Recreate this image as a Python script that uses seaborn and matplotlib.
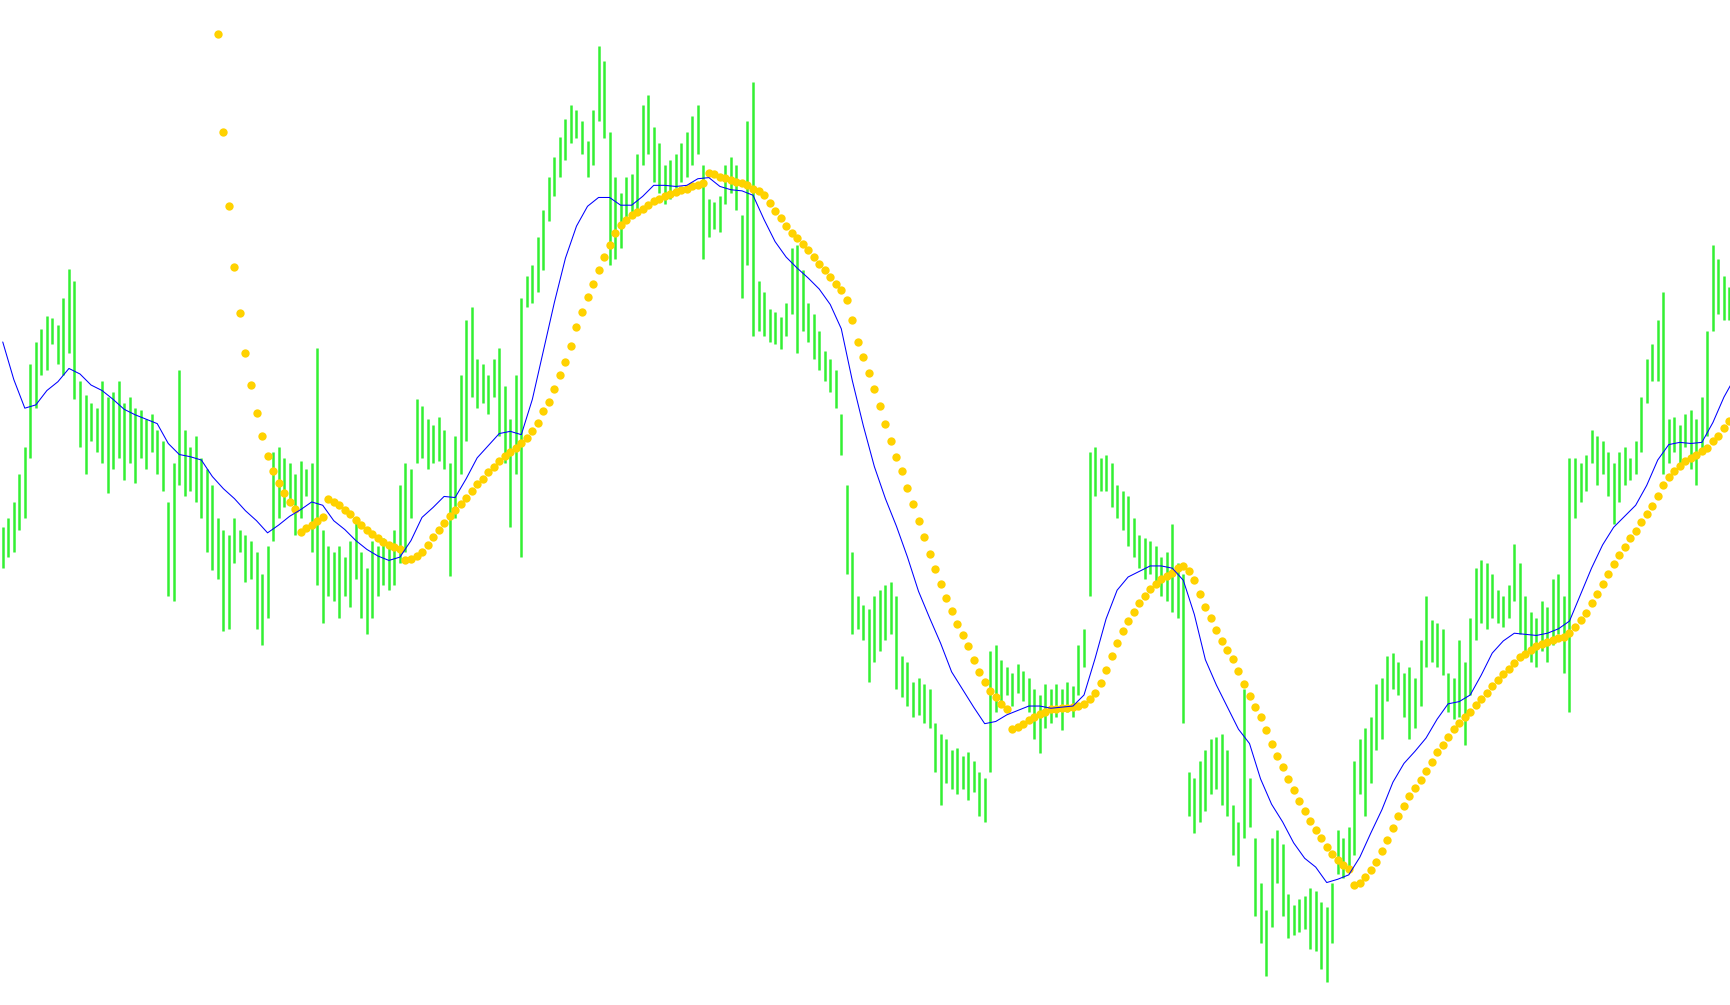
import numpy as np
import pandas as pd
import matplotlib
matplotlib.use("Agg")
import matplotlib.pyplot as plt
import seaborn as sns

# Bar highs / lows (price in points), one value per bar
high = [
    433, 441, 456, 481, 506, 581, 601, 613, 625, 623,
    616, 641, 667, 656, 566, 553, 546, 541, 566, 551,
    556, 566, 546, 551, 541, 539, 531, 536, 521, 511,
    456, 491, 576, 521, 506, 516, 496, 486, 471, 441,
    431, 426, 441, 431, 426, 421, 411, 391, 416, 501,
    506, 496, 491, 481, 493, 486, 491, 596, 431, 416,
    411, 416, 406, 421, 441, 411, 396, 421, 416, 423,
    416, 431, 471, 491, 486, 549, 543, 531, 526, 533,
    521, 491, 516, 571, 621, 633, 586, 581, 571, 586,
    596, 561, 531, 571, 641, 661, 671, 696, 721, 751,
    769, 787, 803, 816, 811, 801, 783, 811, 869, 856,
    791, 751, 736, 751, 753, 771, 816, 825, 796, 781,
    761, 766, 771, 781, 791, 806, 816, 761, 731, 728,
    733, 761, 769, 761, 716, 801, 837, 656, 646, 631,
    628, 624, 636, 686, 689, 666, 636, 626, 611, 593,
    586, 576, 536, 471, 411, 371, 363, 359, 371, 376,
    381, 383, 371, 316, 311, 293, 296, 291, 286, 256,
    246, 241, 231, 233, 226, 229, 221, 211, 206, 321,
    326, 313, 306, 301, 309, 303, 296, 286, 281, 291,
    286, 291, 286, 293, 289, 326, 341, 501, 506, 496,
    499, 491, 471, 466, 461, 441, 426, 423, 421, 416,
    406, 411, 436, 401, 391, 211, 206, 221, 231, 241,
    243, 246, 231, 181, 166, 286, 206, 151, 111, 86,
    151, 159, 146, 101, 91, 96, 99, 106, 103, 93,
    89, 111, 159, 151, 161, 221, 241, 251, 261, 291,
    296, 316, 319, 311, 301, 306, 296, 331, 371, 349,
    346, 341, 301, 296, 331, 311, 351, 396, 403, 401,
    391, 376, 371, 381, 418, 401, 371, 356, 351, 366,
    361, 386, 391, 371, 496, 496, 491, 499, 521, 516,
    511, 501, 491, 501, 506, 496, 511, 551, 586, 599,
    621, 646, 531, 533, 526, 536, 539, 531, 551, 611,
    689, 676, 661, 651,
]
low = [
    396, 406, 411, 431, 441, 496, 541, 571, 576, 599,
    581, 571, 591, 549, 506, 481, 511, 501, 491, 464,
    486, 496, 476, 491, 473, 496, 486, 501, 481, 466,
    371, 366, 471, 461, 466, 456, 441, 411, 394, 386,
    339, 341, 401, 411, 383, 386, 341, 326, 351, 421,
    441, 451, 456, 426, 441, 461, 411, 381, 346, 371,
    366, 351, 371, 361, 386, 351, 336, 351, 371, 381,
    376, 381, 401, 411, 441, 491, 496, 486, 491, 493,
    486, 389, 441, 481, 511, 551, 541, 546, 536, 551,
    516, 491, 433, 481, 406, 633, 636, 646, 666, 711,
    733, 751, 766, 781, 786, 771, 751, 761, 801, 786,
    671, 676, 686, 711, 716, 721, 761, 771, 746, 736,
    726, 731, 741, 746, 751, 761, 771, 676, 696, 703,
    701, 726, 736, 721, 641, 671, 606, 611, 606, 601,
    599, 595, 606, 626, 591, 611, 601, 586, 576, 566,
    556, 541, 499, 391, 336, 341, 331, 293, 311, 321,
    331, 336, 286, 279, 271, 261, 263, 256, 251, 211,
    181, 201, 196, 191, 196, 186, 193, 171, 166, 211,
    266, 271, 281, 271, 283, 276, 266, 241, 228, 251,
    256, 261, 249, 266, 261, 281, 306, 371, 461, 466,
    466, 451, 441, 431, 416, 406, 396, 386, 391, 381,
    371, 366, 356, 351, 256, 171, 156, 166, 176, 191,
    196, 181, 171, 136, 126, 151, 161, 81, 56, 26,
    71, 111, 81, 61, 63, 66, 69, 51, 49, 33,
    21, 56, 119, 115, 126, 136, 191, 171, 201, 231,
    241, 276, 286, 281, 261, 241, 251, 271, 306, 311,
    306, 299, 266, 259, 261, 236, 281, 331, 346, 341,
    351, 346, 343, 351, 366, 336, 316, 311, 306, 321,
    311, 326, 336, 301, 266, 441, 456, 466, 491, 471,
    481, 461, 436, 456, 471, 476, 481, 501, 546, 566,
    566, 481, 491, 501, 491, 506, 486, 471, 501, 516,
    611, 626, 621, 621,
]

# Moving average, one value every 2 bars
ma_step = 2
ma = [
    601, 567, 541, 544, 557, 565, 577, 572, 562, 557,
    549, 540, 535, 531, 527, 509, 499, 497, 494, 479,
    468, 459, 448, 439, 428, 435, 443, 449, 456, 453,
    439, 431, 421, 413, 407, 403, 406, 421, 442, 451,
    461, 460, 477, 496, 507, 518, 520, 517, 549, 593,
    637, 677, 706, 724, 732, 732, 725, 725, 733, 743,
    743, 742, 743, 749, 750, 742, 739, 738, 734, 712,
    692, 678, 668, 659, 649, 635, 613, 566, 525, 488,
    459, 434, 406, 375, 351, 328, 302, 286, 270, 255,
    257, 263, 267, 271, 271, 269, 270, 271, 281, 314,
    350, 376, 388, 393, 398, 398, 396, 385, 354, 313,
    290, 270, 250, 237, 205, 182, 166, 147, 133, 125,
    111, 114, 118, 134, 156, 177, 202, 219, 230, 242,
    259, 273, 275, 281, 299, 319, 330, 337, 336, 335,
    337, 341, 348, 372, 396, 417, 433, 443, 453, 471,
    494, 508, 510, 509, 510, 528, 551, 569,
]

# Parabolic SAR, one dot per bar starting at bar 39
sar_start = 39
sar = [
    880, 791, 724, 669, 627, 591, 562, 537, 516, 498,
    484, 473, 464, 456, 450, 429, 432, 435, 439, 442,
    459, 456, 453, 449, 445, 440, 435, 431, 427, 423,
    420, 417, 415, 413, 403, 404, 407, 411, 417, 424,
    431, 437, 443, 449, 454, 460, 466, 472, 477, 483,
    488, 493, 498, 501, 505, 509, 514, 520, 528, 538,
    547, 558, 571, 583, 597, 615, 628, 642, 654, 666,
    678, 689, 700, 707, 712, 716, 719, 722, 725, 729,
    731, 733, 735, 737, 739, 740, 742, 743, 745, 754,
    753, 751, 750, 748, 746, 745, 743, 740, 738, 734,
    727, 720, 713, 706, 700, 695, 690, 684, 678, 672,
    666, 660, 654, 648, 639, 621, 601, 587, 573, 558,
    543, 527, 511, 497, 484, 469, 454, 439, 424, 409,
    395, 382, 369, 357, 345, 335, 325, 313, 302, 293,
    285, 279, 273, 268, 250, 252, 255, 258, 261, 264,
    266, 268, 268, 269, 269, 270, 271, 273, 277, 283,
    292, 304, 316, 328, 339, 348, 356, 364, 371, 377,
    382, 386, 389, 392, 396, 398, 393, 385, 373, 361,
    351, 340, 330, 322, 314, 303, 291, 280, 270, 261,
    249, 237, 226, 216, 205, 195, 185, 176, 167, 159,
    151, 143, 137, 131, 127, 123, 109, 111, 116, 122,
    130, 140, 150, 160, 171, 180, 189, 197, 204, 212,
    220, 229, 236, 243, 250, 256, 261, 266, 272, 277,
    283, 289, 295, 300, 305, 310, 315, 318, 322, 325,
    327, 329, 331, 333, 334, 337, 343, 349, 355, 364,
    373, 382, 391, 400, 408, 415, 423, 430, 438, 445,
    452, 461, 471, 479, 484, 489, 493, 496, 499, 502,
    505, 511, 516, 523, 529,
]

bars = pd.DataFrame({"bar": np.arange(len(high)), "high": high, "low": low})
ma_df = pd.DataFrame({"bar": np.arange(len(ma)) * ma_step, "ma": ma})
sar_df = pd.DataFrame({"bar": np.arange(len(sar)) + sar_start, "sar": sar})

sns.set_theme(style="white")

fig = plt.figure(figsize=(17.3, 10.05), dpi=100)
ax = fig.add_axes([0, 0, 1, 1])

# high-low bars
ax.vlines(bars["bar"], bars["low"], bars["high"], color="#33f033", linewidth=1.8, zorder=1)

# SAR dots
sns.scatterplot(data=sar_df, x="bar", y="sar", color="#ffd200", s=36,
                linewidth=0, ax=ax, zorder=2)

# moving average
sns.lineplot(data=ma_df, x="bar", y="ma", color="#0000ff", linewidth=0.75, ax=ax, zorder=3)

ax.set_xlim(-0.5, 313.1)
ax.set_ylim(0, 911)
ax.axis("off")

fig.savefig("out.png", dpi=100)
plt.close()
